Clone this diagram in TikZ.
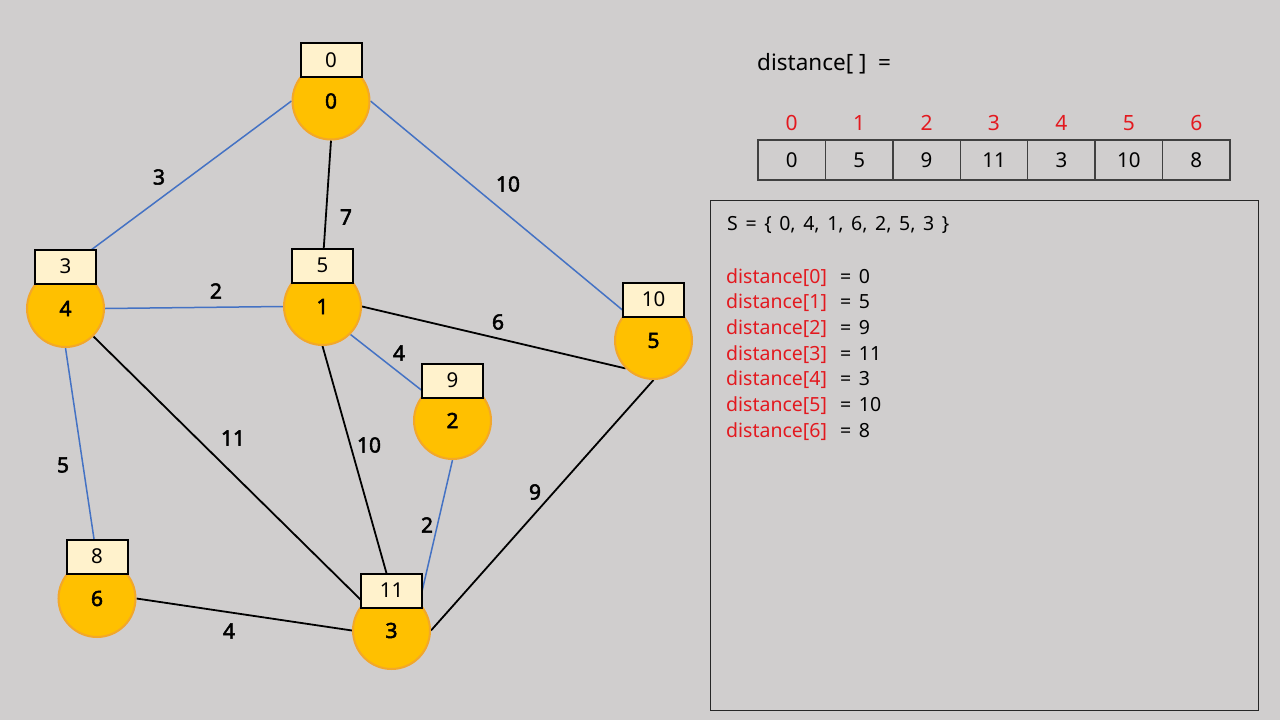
\documentclass[tikz,border=0pt]{standalone}
\usepackage{fontspec}
\setmainfont{Noto Sans}[AutoFakeBold=2.5]
\newfontfamily\panelfont{Noto Sans}[WordSpace=1.5]
\pgfdeclarelayer{canvas}
\pgfdeclarelayer{edges}
\pgfsetlayers{canvas,edges,main}
\definecolor{bgc}{HTML}{D0CECE}
\definecolor{vfill}{HTML}{FFC000}
\definecolor{vline}{HTML}{F2A72A}
\definecolor{boxfill}{HTML}{FFF2CC}
\definecolor{treeblue}{HTML}{4472C4}
\definecolor{idxred}{HTML}{E3191F}
\definecolor{cellline}{HTML}{404040}
\begin{document}
\begin{tikzpicture}[x=1pt,y=-1pt,
  vertex/.style={circle, fill=vfill, draw=vline, line width=2pt, minimum size=77pt,
    inner sep=0pt, font=\fontsize{21}{21}\selectfont\bfseries},
  distbox/.style={rectangle, fill=boxfill, draw=black, line width=2pt,
    minimum width=61pt, minimum height=34pt, inner sep=0pt, font=\fontsize{20.5}{20.5}\selectfont},
  treeedge/.style={draw=treeblue, line width=1.5pt},
  plainedge/.style={draw=black, line width=1.8pt},
  weight/.style={font=\fontsize{21}{21}\selectfont\bfseries, inner sep=0pt},
  cell/.style={rectangle, draw=cellline, line width=1.3pt, minimum width=67.43pt,
    minimum height=40pt, inner sep=0pt, font=\fontsize{20.5}{20.5}\selectfont},
  idx/.style={text=idxred, font=\fontsize{21}{21}\selectfont, inner sep=0pt},
  paneltext/.style={anchor=base west, inner sep=0pt, font=\panelfont\fontsize{19.5}{19.5}\selectfont}]

\begin{pgfonlayer}{canvas}
\fill[bgc] (0,0) rectangle (1280,720);
\end{pgfonlayer}
\useasboundingbox (0,0) rectangle (1280,720);

% vertices
\node[vertex] (v0) at (331,101) {0};
\node[vertex] (v1) at (322.5,306.5) {1};
\node[vertex] (v2) at (452.5,420.5) {2};
\node[vertex] (v3) at (391.5,630.5) {3};
\node[vertex] (v4) at (65.5,308.5) {4};
\node[vertex] (v5) at (653.5,340.5) {5};
\node[vertex] (v6) at (97,598.5) {6};

% distance boxes above each vertex
\node[distbox] (d0) at ([yshift=41pt]v0.center) {0};
\node[distbox] (d1) at ([yshift=41pt]v1.center) {5};
\node[distbox] (d2) at ([yshift=40pt]v2.center) {9};
\node[distbox] (d3) at ([yshift=40pt]v3.center) {11};
\node[distbox] (d4) at ([yshift=42pt]v4.center) {3};
\node[distbox] (d5) at ([yshift=41pt]v5.center) {10};
\node[distbox] (d6) at ([yshift=42pt]v6.center) {8};

% edges behind the vertices
\begin{pgfonlayer}{edges}
\draw[treeedge] (v0.west) -- (v4.north);
\draw[plainedge] (v0.south) -- (v1.north);
\draw[treeedge] (v0.east) -- (v5.135);
\draw[treeedge] (v4.east) -- (v1.west);
\draw[plainedge] (v1.east) -- (v5.225);
\draw[treeedge] (v1.315) -- (v2.135);
\draw[treeedge] (v4.south) -- (v6.north);
\draw[plainedge] (v4.315) -- (v3.135);
\draw[plainedge] (v1.south) -- (v3.north);
\draw[treeedge] (v2.south) -- (v3.45);
\draw[plainedge] (v5.south) -- (v3.east);
\draw[plainedge] (v6.east) -- (v3.west);
\end{pgfonlayer}

% edge weights
\node[weight] (w04) at (159,177) {3};
\node[weight] (w01) at (346,217) {7};
\node[weight] (w05) at (508,184) {10};
\node[weight] (w41) at (216,291) {2};
\node[weight] (w15) at (498,322) {6};
\node[weight] (w12) at (399,353) {4};
\node[weight] (w46) at (63,465) {5};
\node[weight] (w43) at (233,438) {11};
\node[weight] (w13) at (369,445) {10};
\node[weight] (w23) at (427,525) {2};
\node[weight] (w53) at (535,492) {9};
\node[weight] (w63) at (229,631) {4};

% distance array
\node[anchor=west, inner sep=0pt, font=\fontsize{22.5}{22.5}\selectfont] (title) at (757,64) {distance[ ]\ \ =};
\foreach \i/\v in {0/0,1/5,2/9,3/11,4/3,5/10,6/8} {
  \node[cell] (c\i) at ({791.7+67.43*\i},160) {\v};
  \node[idx] (k\i) at ({791.7+67.43*\i},123) {\i};
}

% result panel
\node[draw=black!85, line width=1pt, minimum width=548pt, minimum height=510pt,
  inner sep=0pt, anchor=north west] (panel) at (710,200) {};
\node[paneltext] (sset) at (727,230) {S = \{ 0, 4, 1, 6, 2, 5, 3 \}};
\foreach \i/\v in {0/0,1/5,2/9,3/11,4/3,5/10,6/8} {
  \node[paneltext, text=idxred] (r\i) at (726,{283+25.7*\i}) {distance[\i]};
  \node[paneltext] (e\i) at (840,{283+25.7*\i}) {=\ \v};
}
\end{tikzpicture}
\end{document}
